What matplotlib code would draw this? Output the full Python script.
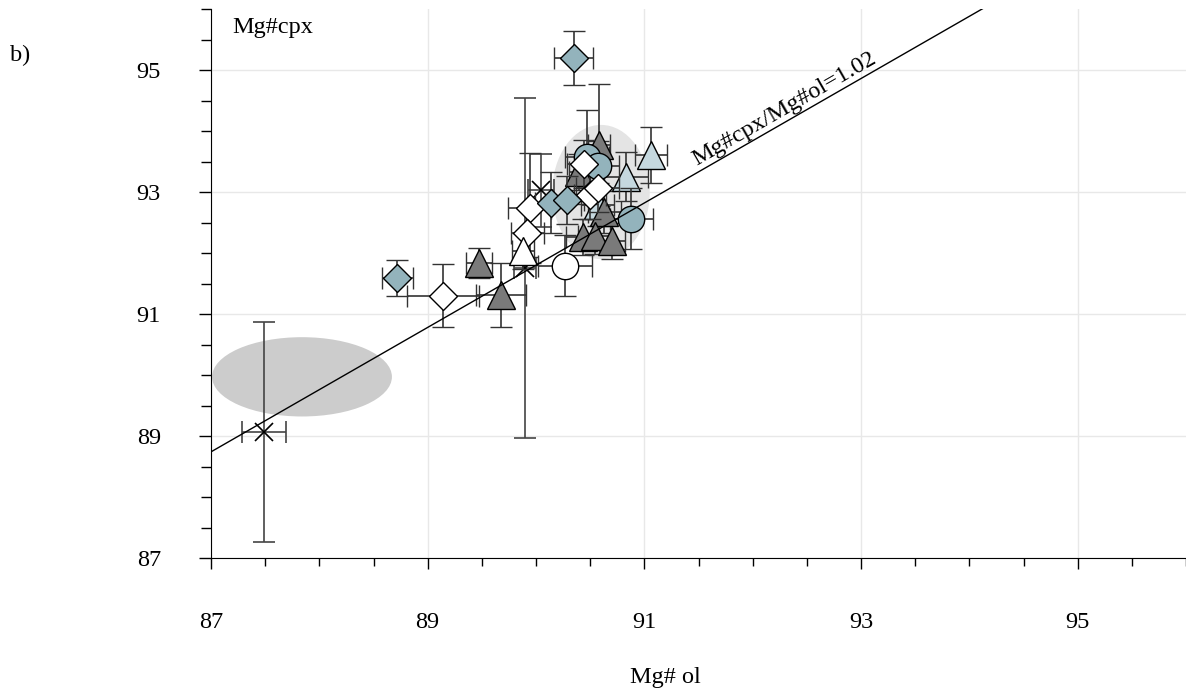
import numpy as np
import matplotlib
matplotlib.use("Agg")
import matplotlib.pyplot as plt
from matplotlib.patches import Ellipse
from matplotlib.ticker import MultipleLocator

plt.rcParams["font.family"] = ["Liberation Serif", "DejaVu Serif"]

# blue-grey diamonds
bd_x = [88.72, 90.35, 90.14, 90.29]
bd_y = [91.59, 95.20, 92.82, 92.87]
bd_xerr = [0.14, 0.18, 0.15, 0.15]
bd_yerr = [0.30, 0.44, 0.50, 0.40]

# white diamonds
wd_x = [89.14, 89.94, 89.92, 90.50, 90.44, 90.57]
wd_y = [91.30, 92.74, 92.33, 92.95, 93.46, 93.07]
wd_xerr = [0.33, 0.20, 0.15, 0.15, 0.15, 0.20]
wd_yerr = [0.52, 0.90, 0.40, 0.40, 0.40, 0.40]

# dark grey triangles
gt_x = [89.47, 89.68, 90.58, 90.40, 90.63, 90.43, 90.54, 90.70]
gt_y = [91.84, 91.31, 93.77, 93.33, 92.67, 92.26, 92.28, 92.20]
gt_xerr = [0.12, 0.23, 0.10, 0.10, 0.15, 0.15, 0.15, 0.12]
gt_yerr = [0.25, 0.52, 1.00, 0.30, 0.35, 0.30, 0.30, 0.30]

# light blue triangles
lt_x = [90.57, 90.83, 91.06]
lt_y = [92.79, 93.25, 93.61]
lt_xerr = [0.15, 0.20, 0.15]
lt_yerr = [0.35, 0.40, 0.46]

# white triangles
wt_x = [89.88]
wt_y = [92.03]
wt_xerr = [0.10]
wt_yerr = [0.30]

# blue-grey circles
bc_x = [90.47, 90.57, 90.88]
bc_y = [93.57, 93.43, 92.56]
bc_xerr = [0.20, 0.20, 0.20]
bc_yerr = [0.77, 0.40, 0.50]

# white circles
wc_x = [90.27]
wc_y = [91.79]
wc_xerr = [0.25]
wc_yerr = [0.50]

# crosses
cr_x = [87.49, 89.90, 90.05]
cr_y = [89.07, 91.75, 93.03]
cr_xerr = [0.20, 0.10, 0.12]
cr_yerr = [1.80, 2.79, 0.60]

# ellipses (fields)
ell_cx = [87.84, 90.60]
ell_cy = [89.97, 93.00]
ell_w = [1.66, 0.90]
ell_h = [1.30, 2.20]

ratio = 1.02
fs = 17.5

fig = plt.figure(figsize=(11.86, 6.93), dpi=100)
ax = fig.add_axes([211 / 1186, 1 - 558 / 693, 975 / 1186, 549 / 693])
ax.set_xlim(87, 96)
ax.set_ylim(87, 96)

ax.add_patch(Ellipse((ell_cx[0], ell_cy[0]), ell_w[0], ell_h[0], color="#cccccc", lw=0, zorder=1))
ax.add_patch(Ellipse((ell_cx[1], ell_cy[1]), ell_w[1], ell_h[1], color="#e4e4e4", lw=0, zorder=1))

z = 3
for i in range(len(cr_x)):
    ax.errorbar(cr_x[i], cr_y[i], xerr=cr_xerr[i], yerr=cr_yerr[i], fmt="x", ms=13,
                mec="black", mew=1.2, ecolor="#444444", elinewidth=1.2,
                capsize=8, capthick=1.2, zorder=z)
    z += 0.01

groups = [
    (lt_x, lt_y, lt_xerr, lt_yerr, "^", 20, "#c5d8df"),
    (gt_x, gt_y, gt_xerr, gt_yerr, "^", 20, "#7a7a7a"),
    (bc_x, bc_y, bc_xerr, bc_yerr, "o", 19, "#93b3bc"),
    (wc_x, wc_y, wc_xerr, wc_yerr, "o", 19, "white"),
    (wd_x, wd_y, wd_xerr, wd_yerr, "D", 14.5, "white"),
    (wt_x, wt_y, wt_xerr, wt_yerr, "^", 20, "white"),
    (bd_x, bd_y, bd_xerr, bd_yerr, "D", 14.5, "#93b3bc"),
]

for gx, gy, gxe, gye, m, ms, fc in groups:
    for i in range(len(gx)):
        ax.errorbar(gx[i], gy[i], xerr=gxe[i], yerr=gye[i], fmt=m, ms=ms,
                    mfc=fc, mec="black", mew=1, ecolor="#333333", elinewidth=1.2,
                    capsize=8, capthick=1.2, zorder=z)
        z += 0.01

# Mg#cpx = 1.02 * Mg#ol
lx = np.array([87, 96])
ax.plot(lx, ratio * lx, color="black", lw=1, zorder=10)
ax.text(92.32, ratio * 92.32 + 0.12, "Mg#cpx/Mg#ol=1.02", fontsize=fs,
        rotation=np.degrees(np.arctan(ratio)), transform_rotates_text=True,
        rotation_mode="anchor", ha="center", va="baseline", zorder=11)

ax.set_xticks([87, 89, 91, 93, 95])
ax.set_yticks([87, 89, 91, 93, 95])
ax.xaxis.set_minor_locator(MultipleLocator(0.5))
ax.yaxis.set_minor_locator(MultipleLocator(0.5))
ax.tick_params(axis="x", which="major", length=8, width=1, pad=31, labelsize=fs)
ax.tick_params(axis="x", which="minor", length=6, width=1)
ax.tick_params(axis="y", which="major", length=9, width=1, pad=27, labelsize=fs)
ax.tick_params(axis="y", which="minor", length=7, width=1)
ax.grid(which="major", color="#e8e8e8", lw=1)
ax.set_axisbelow(True)
for s in ["top", "right"]:
    ax.spines[s].set_visible(False)

fig.text(232 / 1186, 1 - 28 / 693, "Mg#cpx", fontsize=fs, ha="left", va="center")
fig.text(10 / 1186, 1 - 55 / 693, "b)", fontsize=fs, ha="left", va="center")
fig.text(665 / 1186, 1 - 678 / 693, "Mg# ol", fontsize=fs, ha="center", va="center")

fig.savefig("out.png", dpi=100)
